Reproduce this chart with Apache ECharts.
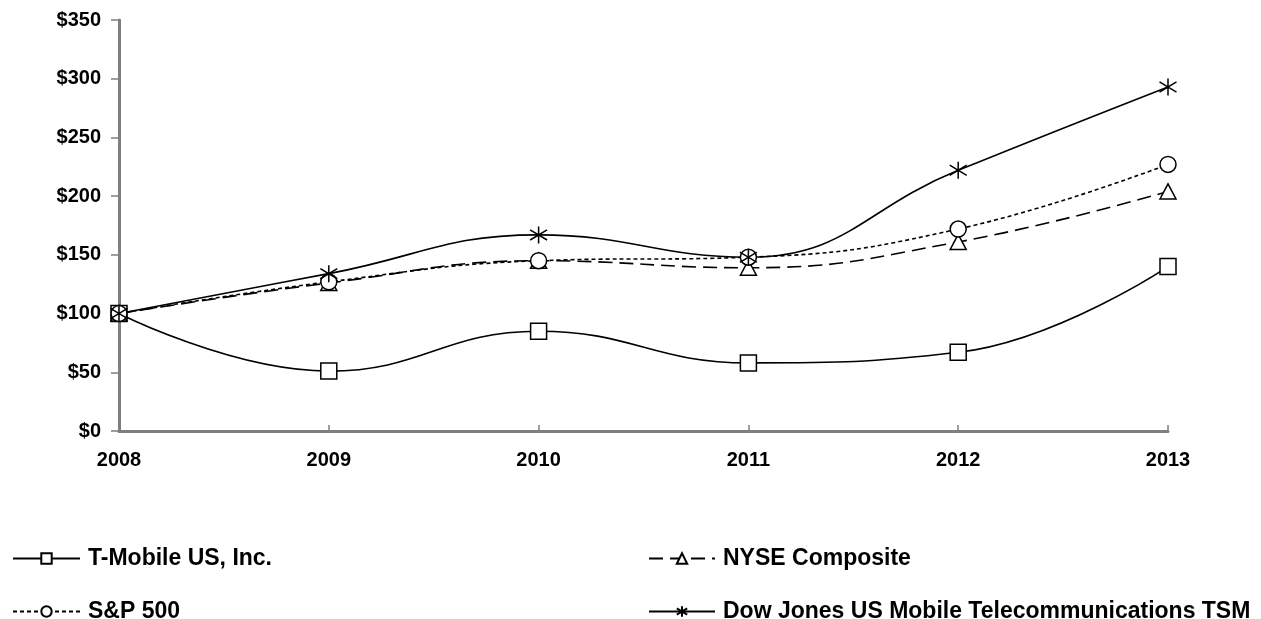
<!DOCTYPE html>
<html>
<head>
<meta charset="utf-8">
<script src="https://cdn.jsdelivr.net/npm/echarts@6/dist/echarts.min.js"></script>
<style>
html,body{margin:0;padding:0;background:#fff;}
#chart{width:1261px;height:619px;}
</style>
</head>
<body>
<div id="chart"></div>
<script>
const years = ['2008', '2009', '2010', '2011', '2012', '2013'];
const tMobile = [100, 51, 85, 58, 67, 140];
const nyse = [100, 126, 145, 139, 161, 204];
const sp500 = [100, 127, 145, 148, 172, 227];
const dowJones = [100, 134, 167, 148, 222, 293];
const seriesNames = ['T-Mobile US, Inc.', 'NYSE Composite', 'S&P 500', 'Dow Jones US Mobile Telecommunications TSM'];

const asterisk = 'path://M10,0 L10,20 M1.5,4 L18.5,16 M1.5,16 L18.5,4';
const font = '"Liberation Sans", Arial, sans-serif';
const markerStyle = { color: '#fff', borderColor: '#000', borderWidth: 1.5 };
const legendText = { fontFamily: font, fontWeight: 'bold', fontSize: 23, color: '#000', padding: [0, 0, 0, 3] };

function legendItem(name, left, top, width) {
  return {
    data: [name], left: left, top: top, padding: 0,
    itemWidth: width, itemHeight: 13, itemGap: 0,
    textStyle: legendText
  };
}

const chart = echarts.init(document.getElementById('chart'));
chart.setOption({
  animation: false,
  backgroundColor: '#fff',
  grid: { left: 119, right: 93, top: 20, bottom: 188 },
  legend: [
    legendItem(seriesNames[0], 12, 547, 67),
    legendItem(seriesNames[2], 12, 600, 67),
    legendItem(seriesNames[1], 648, 547, 66),
    legendItem(seriesNames[3], 648, 600, 66)
  ],
  xAxis: {
    type: 'category',
    data: years,
    boundaryGap: false,
    axisLine: { lineStyle: { color: '#7f7f7f', width: 3 } },
    axisTick: { inside: true, length: 6, lineStyle: { color: '#7f7f7f', width: 1.5 } },
    axisLabel: { margin: 19, fontFamily: font, fontWeight: 'bold', fontSize: 20, color: '#000' }
  },
  yAxis: {
    type: 'value',
    min: 0, max: 350, interval: 50,
    axisLine: { show: true, lineStyle: { color: '#7f7f7f', width: 3 } },
    axisTick: { show: true, length: 8, lineStyle: { color: '#7f7f7f', width: 1.5 } },
    splitLine: { show: false },
    axisLabel: { margin: 18, formatter: v => '$' + v, fontFamily: font, fontWeight: 'bold', fontSize: 20, color: '#000' }
  },
  series: [
    {
      name: seriesNames[0], type: 'line', data: tMobile, smooth: 0.45,
      symbol: 'rect', symbolSize: 16, itemStyle: markerStyle,
      lineStyle: { color: '#000', width: 1.6, type: 'solid' }
    },
    {
      name: seriesNames[1], type: 'line', data: nyse, smooth: 0.45,
      symbol: 'triangle', symbolSize: [16, 15], itemStyle: markerStyle,
      lineStyle: { color: '#000', width: 1.6, type: [14, 7] }
    },
    {
      name: seriesNames[2], type: 'line', data: sp500, smooth: 0.45,
      symbol: 'circle', symbolSize: 16, itemStyle: markerStyle,
      lineStyle: { color: '#000', width: 1.6, type: [4, 3] }
    },
    {
      name: seriesNames[3], type: 'line', data: dowJones, smooth: 0.45,
      symbol: asterisk, symbolSize: 17, itemStyle: markerStyle,
      lineStyle: { color: '#000', width: 1.6, type: 'solid' }
    }
  ]
});
</script>
</body>
</html>
